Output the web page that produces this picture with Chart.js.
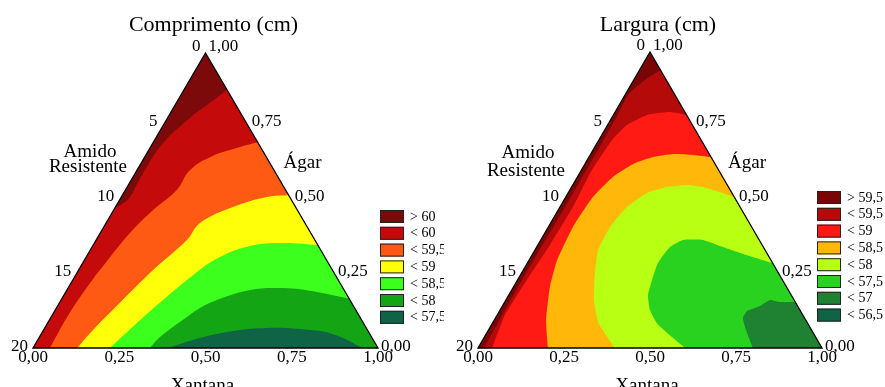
<!DOCTYPE html>
<html>
<head>
<meta charset="utf-8">
<script src="https://cdn.jsdelivr.net/npm/chart.js@4.4.1/dist/chart.umd.min.js"></script>
<style>
    html, body { margin: 0; padding: 0; background: #fff; width: 885px; height: 387px; overflow: hidden; }
    canvas { position: absolute; top: 0; }
    #comprimento { left: 0; }
    #largura { left: 444px; }
</style>
</head>
<body>
<canvas id="comprimento" width="444" height="400"></canvas>
<canvas id="largura" width="441" height="400"></canvas>
<script>
// eixos do triângulo
const amidoTicks = [0, 5, 10, 15, 20];
const agarTicks = [1, 0.75, 0.5, 0.25, 0];
const xantanaTicks = [0, 0.25, 0.5, 0.75, 1];

// Comprimento (cm) -- fronteiras entre faixas (x = base/Xantana, y = altura/Ágar)
const compNiveis = ['> 60', '< 60', '< 59,5', '< 59', '< 58,5', '< 58', '< 57,5'];
const compCores = ['#7d0a0a', '#c40a0a', '#ff5a14', '#ffff0a', '#3cff1e', '#14a514', '#0f6446'];
const comp60X = [0.562, 0.513, 0.455, 0.377, 0.319, 0.281, 0.258, 0.2375];
const comp60Y = [0.875, 0.831, 0.780, 0.695, 0.593, 0.512, 0.488, 0.475];
const comp595X = [0.652, 0.600, 0.513, 0.455, 0.417, 0.348, 0.281, 0.223, 0.157, 0.099, 0.049];
const comp595Y = [0.698, 0.681, 0.647, 0.603, 0.536, 0.468, 0.390, 0.308, 0.207, 0.105, 0];
const comp59X = [0.745, 0.678, 0.580, 0.484, 0.446, 0.348, 0.252, 0.174, 0.128];
const comp59Y = [0.519, 0.512, 0.478, 0.424, 0.366, 0.264, 0.153, 0.061, 0];
const comp585X = [0.826, 0.725, 0.629, 0.536, 0.464, 0.377, 0.301, 0.223];
const comp585Y = [0.349, 0.356, 0.346, 0.305, 0.247, 0.163, 0.085, 0];
const comp58X = [0.910, 0.823, 0.725, 0.629, 0.533, 0.484, 0.446, 0.368, 0.339];
const comp58Y = [0.169, 0.190, 0.203, 0.197, 0.163, 0.136, 0.105, 0.037, 0];
const comp575X = [0.391, 0.484, 0.580, 0.678, 0.774, 0.870, 0.957];
const comp575Y = [0, 0.034, 0.058, 0.068, 0.064, 0.047, 0];

// Largura (cm)
const largNiveis = ['> 59,5', '< 59,5', '< 59', '< 58,5', '< 58', '< 57,5', '< 57', '< 56,5'];
const largCores = ['#7a0505', '#b50a0a', '#ff1a14', '#ffb80a', '#b8ff14', '#28d21e', '#1e8232', '#0f6446'];
const larg595X = [0.530, 0.485, 0.436, 0.398, 0.265, 0.128, 0.017];
const larg595Y = [0.939, 0.905, 0.855, 0.770, 0.500, 0.230, 0];
const larg59X = [0.606, 0.558, 0.491, 0.433, 0.390, 0.331, 0.276, 0.209, 0.142, 0.078, 0.041];
const larg59Y = [0.787, 0.797, 0.787, 0.753, 0.703, 0.601, 0.476, 0.348, 0.230, 0.111, 0];
const larg585X = [0.677, 0.625, 0.567, 0.509, 0.451, 0.392, 0.334, 0.276, 0.230, 0.209, 0.198, 0.203];
const larg585Y = [0.645, 0.652, 0.655, 0.645, 0.622, 0.578, 0.510, 0.409, 0.297, 0.206, 0.095, 0];
const larg58X = [0.744, 0.703, 0.654, 0.608, 0.549, 0.491, 0.433, 0.384, 0.349, 0.340, 0.337, 0.349, 0.372, 0.398];
const larg58Y = [0.510, 0.527, 0.544, 0.551, 0.544, 0.524, 0.476, 0.409, 0.331, 0.253, 0.162, 0.088, 0.044, 0];
const larg575X = [0.855, 0.762, 0.712, 0.654, 0.596, 0.558, 0.523, 0.506, 0.494, 0.500, 0.520, 0.564, 0.602];
const larg575Y = [0.287, 0.321, 0.341, 0.365, 0.365, 0.341, 0.287, 0.230, 0.179, 0.128, 0.084, 0.037, 0];
const larg57X = [0.922, 0.878, 0.849, 0.820, 0.782, 0.770, 0.779, 0.799];
const larg57Y = [0.155, 0.155, 0.162, 0.142, 0.125, 0.101, 0.061, 0];

const fonte = '"Liberation Serif", "Times New Roman", serif';

function virgula(n) {
    return n.toFixed(2).replace('.', ',');
}

// fecha a fronteira por fora do triângulo, para preencher tudo o que fica abaixo dela
function fechar(xs, ys) {
    const pts = xs.map((x, i) => ({x: x, y: ys[i]}));
    const n = pts.length;
    const ext = (a, b) => {
        const dx = a.x - b.x, dy = a.y - b.y, d = Math.hypot(dx, dy);
        return {x: a.x + 0.15 * dx / d, y: a.y + 0.15 * dy / d};
    };
    const volta = [ext(pts[n - 1], pts[n - 2])];
    if (pts[n - 1].y > 0) volta.push({x: -0.6, y: -0.5});
    if (pts[0].y > 0) volta.push({x: 1.6, y: -0.5});
    return [ext(pts[0], pts[1])].concat(pts, volta);
}

function criarGrafico(id, cfg) {
    const n = cfg.fronteiras.length;
    const datasets = cfg.fronteiras.map((f, i) => ({
        data: fechar(f[0], f[1]),
        showLine: true,
        fill: 'shape',
        backgroundColor: cfg.cores[i + 1],
        borderWidth: 0,
        pointRadius: 0,
        tension: cfg.tensao,
        capBezierPoints: false,
        order: n - i
    }));

    const moldura = {
        id: 'moldura',
        beforeDatasetsDraw(chart) {
            const {ctx, scales: {x, y}} = chart;
            ctx.save();
            ctx.beginPath();
            ctx.moveTo(x.getPixelForValue(0), y.getPixelForValue(0));
            ctx.lineTo(x.getPixelForValue(1), y.getPixelForValue(0));
            ctx.lineTo(x.getPixelForValue(0.5), y.getPixelForValue(1));
            ctx.closePath();
            ctx.clip();
            ctx.fillStyle = cfg.cores[0];
            ctx.fill();
        },
        afterDatasetsDraw(chart) {
            chart.ctx.restore();
        },
        afterDraw(chart) {
            const {ctx, scales: {x, y}} = chart;
            const px = u => x.getPixelForValue(u);
            const py = v => y.getPixelForValue(v);
            ctx.save();

            ctx.beginPath();
            ctx.moveTo(px(0), py(0));
            ctx.lineTo(px(1), py(0));
            ctx.lineTo(px(0.5), py(1));
            ctx.closePath();
            ctx.strokeStyle = '#000';
            ctx.lineWidth = 1.3;
            ctx.stroke();

            ctx.fillStyle = '#000';
            ctx.textBaseline = 'middle';
            ctx.font = '17px ' + fonte;
            ctx.textAlign = 'right';
            amidoTicks.forEach(a => {
                const v = 1 - a / 20;
                ctx.fillText(String(a), px(v / 2) - 5, py(v) - 1 - 5 * v);
            });
            ctx.textAlign = 'left';
            agarTicks.forEach(g => {
                ctx.fillText(virgula(g), px(1 - g / 2) + 3, py(g) - 1 - 5 * g);
            });
            ctx.textAlign = 'center';
            xantanaTicks.forEach(t => ctx.fillText(virgula(t), px(t), py(0) + 10));

            ctx.font = '22px ' + fonte;
            ctx.fillText(cfg.titulo, px(0.5) + 8, 25);

            ctx.font = '19px ' + fonte;
            ctx.fillText('Amido', cfg.amido[0], cfg.amido[1]);
            ctx.fillText('Resistente', cfg.amido[0] - 2, cfg.amido[2]);
            ctx.fillText('Ágar', px(0.5) + 97, 163);
            ctx.fillText('Xantana', px(0.5) - 3, 386);

            // legenda das faixas
            ctx.font = '14px ' + fonte;
            ctx.textAlign = 'left';
            cfg.niveis.forEach((txt, i) => {
                const topo = cfg.legenda[1] + i * 16.8;
                ctx.fillStyle = cfg.cores[i];
                ctx.fillRect(cfg.legenda[0], topo, 24, 13);
                ctx.strokeStyle = '#222';
                ctx.lineWidth = 1;
                ctx.strokeRect(cfg.legenda[0] + 0.5, topo + 0.5, 23, 12);
                ctx.fillStyle = '#000';
                ctx.fillText(txt, cfg.legenda[0] + 30, topo + 7);
            });
            ctx.restore();
        }
    };

    const grade = {color: 'rgba(255,255,255,0.4)', drawTicks: false};
    return new Chart(document.getElementById(id), {
        type: 'scatter',
        data: {datasets: datasets},
        options: {
            responsive: false,
            animation: false,
            events: [],
            layout: {padding: cfg.margens},
            plugins: {legend: {display: false}, tooltip: {enabled: false}},
            scales: {
                x: {type: 'linear', min: 0, max: 1, z: 1, grid: grade, border: {display: false},
                    ticks: {display: false, stepSize: 1 / 16}},
                y: {type: 'linear', min: 0, max: 1, z: 1, grid: grade, border: {display: false},
                    ticks: {display: false, stepSize: 0.2}}
            }
        },
        plugins: [moldura]
    });
}

criarGrafico('comprimento', {
    titulo: 'Comprimento (cm)',
    niveis: compNiveis,
    cores: compCores,
    fronteiras: [[comp60X, comp60Y], [comp595X, comp595Y], [comp59X, comp59Y],
                 [comp585X, comp585Y], [comp58X, comp58Y], [comp575X, comp575Y]],
    tensao: 0.4,
    margens: {left: 33, right: 66, top: 53, bottom: 52},
    amido: [90, 152, 167],
    legenda: [380, 210]
});

criarGrafico('largura', {
    titulo: 'Largura (cm)',
    niveis: largNiveis,
    cores: largCores,
    fronteiras: [[larg595X, larg595Y], [larg59X, larg59Y], [larg585X, larg585Y],
                 [larg58X, larg58Y], [larg575X, larg575Y], [larg57X, larg57Y]],
    tensao: 0.15,
    margens: {left: 34, right: 63, top: 52, bottom: 52},
    amido: [84, 153, 171],
    legenda: [373, 191]
});
</script>
</body>
</html>
